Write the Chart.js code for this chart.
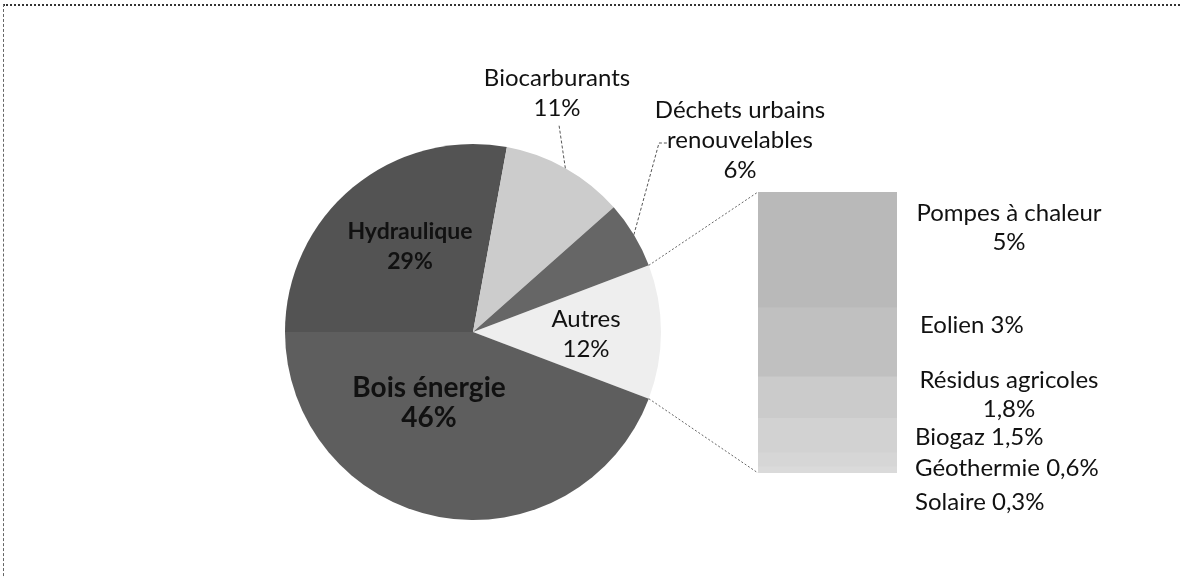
<!DOCTYPE html>
<html>
<head>
<meta charset="utf-8">
<script src="https://cdn.jsdelivr.net/npm/chart.js@4.4.1/dist/chart.umd.min.js"></script>
<style>
  html, body { margin: 0; padding: 0; background: #fff; }
  #wrap { position: relative; width: 1180px; height: 577px; overflow: hidden; }
  #frame { position: absolute; left: 3px; top: 4px; width: 1200px; height: 600px;
           border-top: 2px dotted #333; border-left: 1px dashed #666; }
  canvas { position: absolute; left: 0; top: 0; }
</style>
</head>
<body>
<div id="wrap">
  <div id="frame"></div>
  <canvas id="pie" width="1180" height="577"></canvas>
  <canvas id="bar" width="1180" height="577"></canvas>
</div>
<script>
// pie: main sources, "Autres" is split out in the bar
const pieLabels = ['Autres', 'Bois énergie', 'Hydraulique', 'Biocarburants', 'Déchets urbains\nrenouvelables']
const pieValues = [12, 46, 29, 11, 6]
const pieColors = ['#eeeeee', '#5e5e5e', '#535353', '#cccccc', '#666666']

// bar: detail of "Autres"
const barLabels = ['Pompes à chaleur', 'Eolien', 'Résidus agricoles', 'Biogaz', 'Géothermie', 'Solaire']
const barValues = [5, 3, 1.8, 1.5, 0.6, 0.3]
const barColors = ['#b9b9b9', '#c0c0c0', '#cbcbcb', '#d2d2d2', '#d6d6d6', '#dadada']

const FONT = 'Lato, "Open Sans", sans-serif'
const pct = v => String(v).replace('.', ',') + '%'

// label placement (offsets from pie centre for inside labels, absolute for outside ones)
const pieLabelLayout = [
  { dx: 113, dy: 2, size: 24, weight: 'normal', inside: true },
  { dx: -44, dy: 71, size: 28, weight: 'bold', inside: true },
  { dx: -63, dy: -85, size: 23, weight: 'bold', inside: true },
  { x: 557, y: 78, size: 24, knee: [559, 125] },
  { x: 740, y: 110, size: 24, knee: [659, 143], tail: [667, 143] }
]
const barLabelLayout = [
  { x: 1009, y: 213, align: 'center', split: true },
  { x: 920, y: 325, align: 'left' },
  { x: 1009, y: 380, align: 'center', split: true },
  { x: 915, y: 437, align: 'left' },
  { x: 915, y: 468, align: 'left' },
  { x: 915, y: 502, align: 'left' }
]
const LINE_H = 30

const total = pieValues.reduce((a, b) => a + b, 0)
// centre the "Autres" slice on the right (3 o'clock)
const rotation = 90 - (pieValues[0] / total) * 180

const pieText = {
  id: 'pieText',
  afterDraw(chart) {
    const ctx = chart.ctx
    const arcs = chart.getDatasetMeta(0).data
    ctx.save()
    ctx.fillStyle = '#111'
    ctx.textAlign = 'center'
    ctx.textBaseline = 'middle'
    arcs.forEach((arc, i) => {
      const lay = pieLabelLayout[i]
      const lines = pieLabels[i].split('\n').concat(pct(pieValues[i]))
      ctx.font = `${lay.weight || 'normal'} ${lay.size}px ${FONT}`
      let x, y
      if (lay.inside) {
        x = arc.x + lay.dx
        y = arc.y + lay.dy - (lines.length - 1) * LINE_H / 2
      } else {
        x = lay.x
        y = lay.y
        // leader line from slice edge
        const mid = (arc.startAngle + arc.endAngle) / 2
        const px = arc.x + Math.cos(mid) * arc.outerRadius
        const py = arc.y + Math.sin(mid) * arc.outerRadius
        ctx.save()
        ctx.strokeStyle = '#555'
        ctx.lineWidth = 1
        ctx.setLineDash([3, 2])
        ctx.beginPath()
        ctx.moveTo(px, py)
        ctx.lineTo(lay.knee[0], lay.knee[1])
        if (lay.tail) ctx.lineTo(lay.tail[0], lay.tail[1])
        ctx.stroke()
        ctx.restore()
      }
      lines.forEach((t, k) => ctx.fillText(t, x, y + k * LINE_H))
    })
    ctx.restore()
  }
}

const pieChart = new Chart(document.getElementById('pie'), {
  type: 'pie',
  data: {
    labels: pieLabels,
    datasets: [{
      data: pieValues,
      backgroundColor: pieColors,
      borderWidth: 0
    }]
  },
  options: {
    responsive: false,
    animation: false,
    rotation: rotation,
    layout: { padding: { left: 285, right: 519, top: 144, bottom: 57 } },
    plugins: { legend: { display: false }, tooltip: { enabled: false } }
  },
  plugins: [pieText]
})

const barText = {
  id: 'barText',
  afterDraw(chart) {
    const ctx = chart.ctx
    ctx.save()
    // connector lines from the "Autres" slice to the bar
    const autres = pieChart.getDatasetMeta(0).data[0]
    const first = chart.getDatasetMeta(0).data[0]
    const last = chart.getDatasetMeta(barValues.length - 1).data[0]
    const left = first.x - first.width / 2
    const a0 = autres.startAngle, a1 = autres.endAngle, r = autres.outerRadius
    ctx.strokeStyle = '#666'
    ctx.lineWidth = 1
    ctx.setLineDash([2, 2])
    ctx.beginPath()
    ctx.moveTo(autres.x + Math.cos(a0) * r, autres.y + Math.sin(a0) * r)
    ctx.lineTo(left, first.base)
    ctx.moveTo(autres.x + Math.cos(a1) * r, autres.y + Math.sin(a1) * r)
    ctx.lineTo(left, last.y)
    ctx.stroke()
    ctx.setLineDash([])

    ctx.fillStyle = '#111'
    ctx.textBaseline = 'middle'
    ctx.font = `24px ${FONT}`
    barLabels.forEach((name, i) => {
      const lay = barLabelLayout[i]
      ctx.textAlign = lay.align
      const lines = lay.split ? [name, pct(barValues[i])] : [name + ' ' + pct(barValues[i])]
      lines.forEach((t, k) => ctx.fillText(t, lay.x, lay.y + k * (LINE_H - 1)))
    })
    ctx.restore()
  }
}

new Chart(document.getElementById('bar'), {
  type: 'bar',
  data: {
    labels: ['Autres'],
    datasets: barLabels.map((name, i) => ({
      label: name,
      data: [barValues[i]],
      backgroundColor: barColors[i],
      borderWidth: 0,
      barPercentage: 1,
      categoryPercentage: 1
    }))
  },
  options: {
    responsive: false,
    animation: false,
    layout: { padding: { left: 758, right: 283, top: 192, bottom: 104 } },
    scales: {
      x: { stacked: true, display: false },
      y: { stacked: true, display: false, reverse: true, min: 0,
           max: barValues.reduce((a, b) => a + b, 0) }
    },
    plugins: { legend: { display: false }, tooltip: { enabled: false } }
  },
  plugins: [barText]
})
</script>
</body>
</html>
